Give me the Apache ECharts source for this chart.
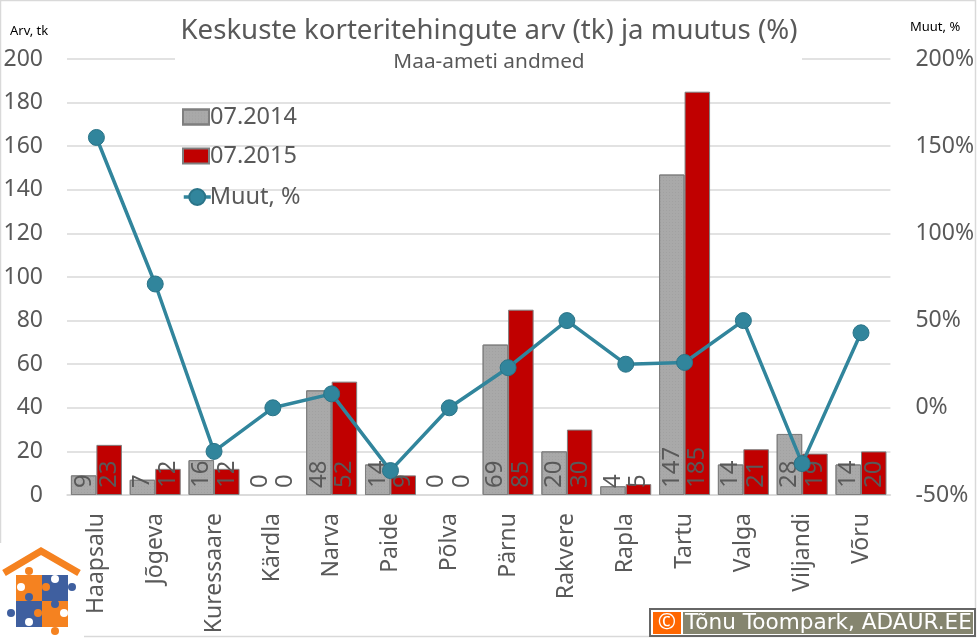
<!DOCTYPE html>
<html>
<head>
<meta charset="utf-8">
<title>Keskuste korteritehingute arv</title>
<script src="https://cdn.jsdelivr.net/npm/echarts@6/dist/echarts.min.js"></script>
<style>
  html, body { margin: 0; padding: 0; background: #fff; }
  #chart { width: 977px; height: 638px; }
</style>
</head>
<body>
<div id="chart"></div>
<script>
const FONT = '"Noto Sans", sans-serif';
const TEXT = '#595959';

const categories = ['Haapsalu', 'Jõgeva', 'Kuressaare', 'Kärdla', 'Narva', 'Paide', 'Põlva', 'Pärnu', 'Rakvere', 'Rapla', 'Tartu', 'Valga', 'Viljandi', 'Võru'];
const values2014 = [9, 7, 16, 0, 48, 14, 0, 69, 20, 4, 147, 14, 28, 14];
const values2015 = [23, 12, 12, 0, 52, 9, 0, 85, 30, 5, 185, 21, 19, 20];
const changePct = [155, 71, -25, 0, 8, -36, 0, 23, 50, 25, 26, 50, -32, 43];

const barLabel = {
  show: true,
  position: 'insideBottom',
  rotate: 90,
  align: 'left',
  verticalAlign: 'middle',
  distance: 7,
  color: TEXT,
  fontFamily: FONT,
  fontSize: 24,
};

// zero bars get no outline
const barData = values => values.map(v => (v === 0 ? { value: v, itemStyle: { borderWidth: 0 } } : v));

// logo puzzle pieces, decoration only
const logoRects = [
  [16, 575, '#f58220'], [42, 575, '#3f5f9f'],
  [16, 601, '#3f5f9f'], [42, 601, '#f58220'],
];
const logoDots = [
  [29, 571, '#f58220'], [21, 587, '#fff'], [46, 587, '#f58220'], [55, 579, '#fff'],
  [72, 587, '#3f5f9f'], [29, 597, '#3f5f9f'], [11, 613, '#3f5f9f'], [38, 613, '#f58220'],
  [29, 622, '#fff'], [55, 604, '#3f5f9f'], [64, 613, '#fff'], [55, 631, '#f58220'],
];

const chart = echarts.init(document.getElementById('chart'), null, { renderer: 'canvas' });
chart.setOption({
  animation: false,
  backgroundColor: '#fff',
  textStyle: { fontFamily: FONT },
  title: {
    text: 'Keskuste korteritehingute arv (tk) ja muutus (%)',
    subtext: 'Maa-ameti andmed',
    left: 484,
    top: 12,
    textAlign: 'center',
    itemGap: 7,
    textStyle: { color: TEXT, fontSize: 27.6, fontWeight: 'normal', fontFamily: FONT },
    subtextStyle: { color: TEXT, fontSize: 20.8, fontFamily: FONT },
  },
  legend: [
    {
      orient: 'vertical',
      left: 177,
      top: 100,
      itemWidth: 26,
      itemHeight: 15,
      itemGap: 15,
      selectedMode: false,
      icon: 'rect',
      textStyle: { color: TEXT, fontSize: 23.5, fontFamily: FONT, padding: [0, 0, 0, -4] },
      data: ['07.2014', '07.2015'],
    },
    {
      left: 177,
      top: 180,
      itemWidth: 27,
      itemHeight: 20,
      selectedMode: false,
      lineStyle: { width: 3.5 },
      textStyle: { color: TEXT, fontSize: 23.5, fontFamily: FONT, padding: [0, 0, 0, -6] },
      data: ['Muut, %'],
    },
  ],
  grid: { left: 67, right: 86, top: 59, bottom: 143 },
  xAxis: {
    type: 'category',
    data: categories,
    axisTick: { show: false },
    axisLine: { lineStyle: { color: '#d9d9d9', width: 1.5 } },
    axisLabel: { rotate: 90, interval: 0, margin: 18, color: TEXT, fontSize: 23, fontFamily: FONT },
  },
  yAxis: [
    {
      type: 'value',
      min: 0,
      max: 200,
      interval: 20,
      axisLabel: { margin: 24, color: TEXT, fontSize: 23, fontFamily: FONT, padding: [3, 0, 0, 0] },
      splitLine: { lineStyle: { color: '#d9d9d9', width: 1.5 } },
    },
    {
      type: 'value',
      min: -50,
      max: 200,
      interval: 50,
      position: 'right',
      splitLine: { show: false },
      axisLabel: { margin: 25, formatter: '{value}%', color: TEXT, fontSize: 23, fontFamily: FONT, padding: [3, 0, 0, 0] },
    },
  ],
  series: [
    {
      name: '07.2014',
      type: 'bar',
      z: 2,
      data: barData(values2014),
      barWidth: 25.5,
      barGap: '0%',
      itemStyle: {
        color: '#a9a9a9',
        borderColor: '#7f7f7f',
        borderWidth: 1,
        decal: { symbol: 'rect', symbolSize: 1, dashArrayX: [1, 2], dashArrayY: [1, 2], color: 'rgba(130,130,130,0.2)' },
      },
      label: barLabel,
    },
    {
      name: '07.2015',
      type: 'bar',
      z: 2,
      data: barData(values2015),
      barWidth: 25.5,
      itemStyle: { color: '#c00000', borderColor: '#7f7f7f', borderWidth: 1 },
      label: barLabel,
    },
    {
      name: 'Muut, %',
      type: 'line',
      z: 5,
      yAxisIndex: 1,
      data: changePct,
      symbol: 'circle',
      symbolSize: 16,
      lineStyle: { color: '#31859c', width: 3.5 },
      itemStyle: { color: '#31859c', borderColor: '#2a7488', borderWidth: 1 },
    },
  ],
  graphic: [
    // frame
    { type: 'rect', z: 0, shape: { x: 0.5, y: 0.5, width: 975, height: 636 }, style: { fill: 'none', stroke: '#d9d9d9', lineWidth: 1.5 } },
    // white box behind the title hides the top gridline
    { type: 'rect', z: 1, shape: { x: 175, y: 50, width: 627, height: 26 }, style: { fill: '#fff' } },
    { type: 'text', z: 6, x: 10, y: 25, style: { text: 'Arv, tk', fill: '#000', font: '13px ' + FONT } },
    { type: 'text', z: 6, x: 910, y: 21, style: { text: 'Muut, %', fill: '#000', font: '13px ' + FONT } },
    // logo
    { type: 'rect', z: 6, shape: { x: 0, y: 543, width: 84, height: 95 }, style: { fill: '#fff' } },
    { type: 'polyline', z: 7, shape: { points: [[4, 573], [41, 551], [79, 573]] }, style: { fill: 'none', stroke: '#f58220', lineWidth: 7 } },
    ...logoRects.map(([x, y, fill]) => ({ type: 'rect', z: 7, shape: { x, y, width: 26, height: 26 }, style: { fill } })),
    ...logoDots.map(([cx, cy, fill]) => ({ type: 'circle', z: 8, shape: { cx, cy, r: 4 }, style: { fill } })),
    // copyright badge
    { type: 'rect', z: 6, shape: { x: 650, y: 609, width: 325, height: 27 }, style: { fill: '#fff', stroke: '#666', lineWidth: 2 } },
    { type: 'rect', z: 7, shape: { x: 653, y: 612, width: 28, height: 22 }, style: { fill: '#ff6600' } },
    { type: 'rect', z: 7, shape: { x: 683, y: 612, width: 290, height: 22 }, style: { fill: '#85856f' } },
    { type: 'text', z: 8, x: 667, y: 623, style: { text: '©', fill: '#fff', font: '22px ' + FONT, align: 'center', verticalAlign: 'middle' } },
    { type: 'text', z: 8, x: 685, y: 623, style: { text: 'Tõnu Toompark, ADAUR.EE', fill: '#fff', font: '21.6px "DejaVu Sans"', verticalAlign: 'middle' } },
  ],
});
</script>
</body>
</html>
